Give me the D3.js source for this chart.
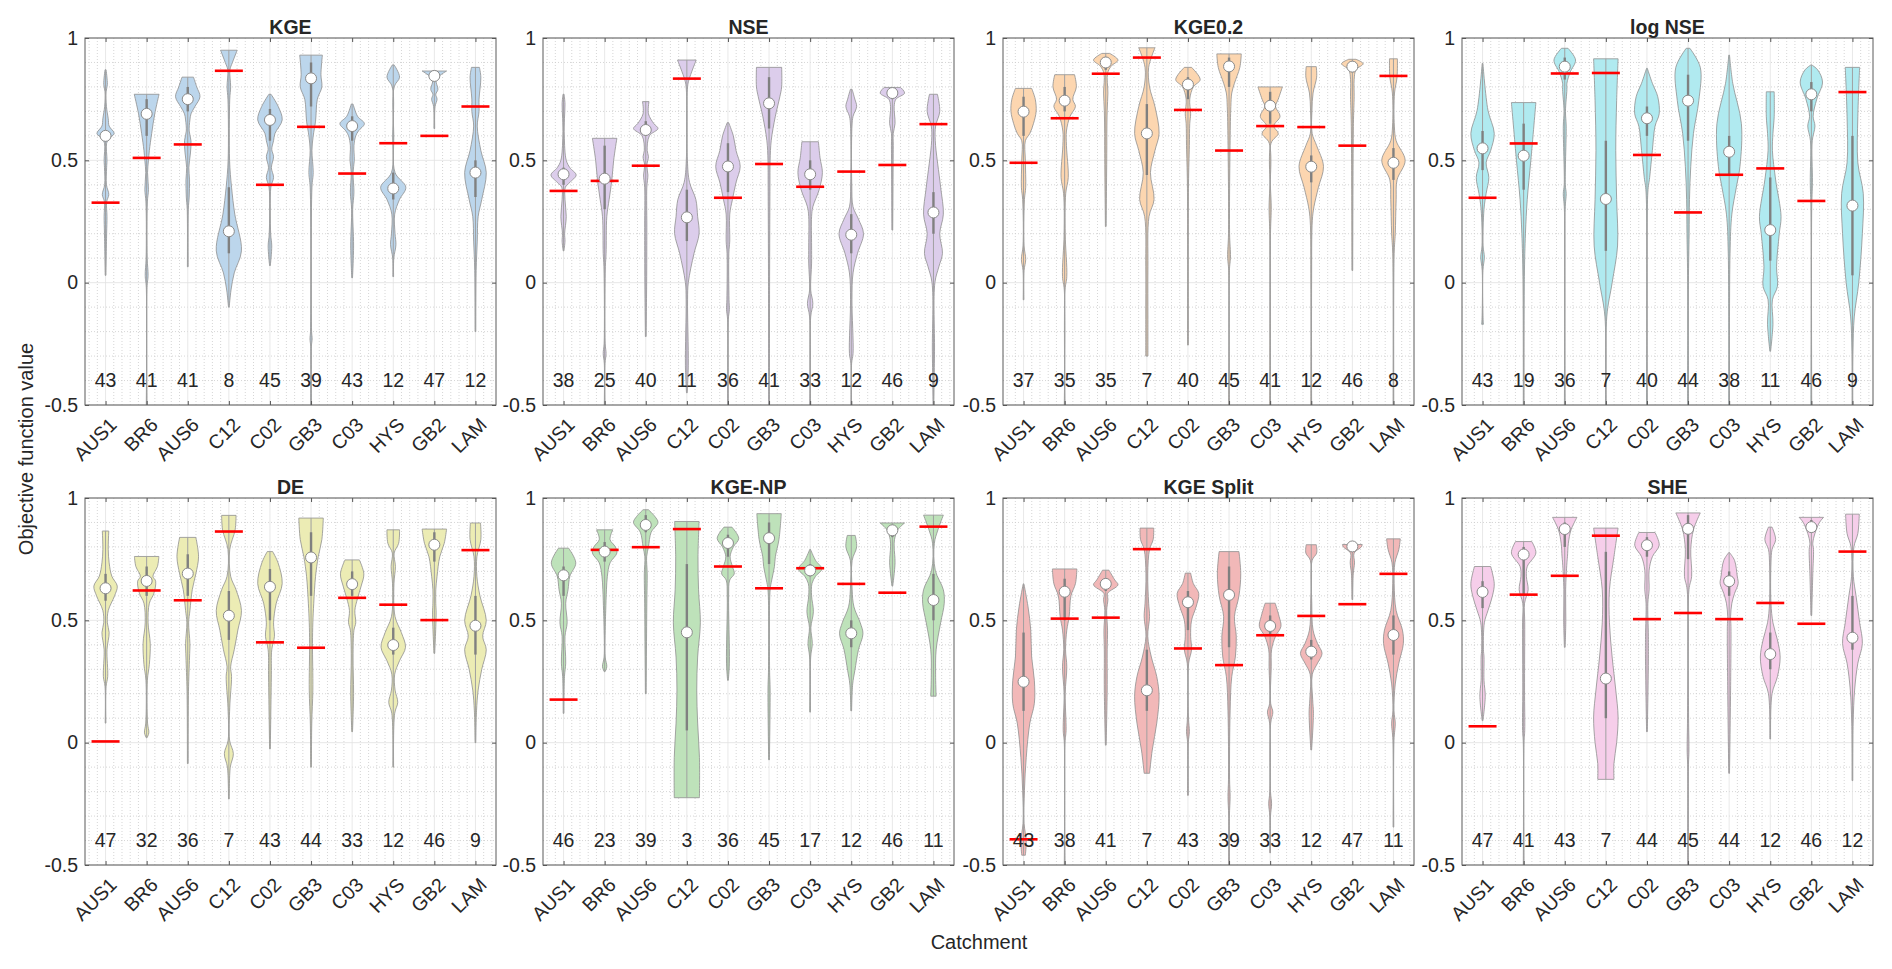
<!DOCTYPE html>
<html>
<head>
<meta charset="utf-8">
<script src="https://cdn.jsdelivr.net/npm/d3@7"></script>
<style>
  body { margin: 0; background: #fff; }
  text { font-family: "Liberation Sans", Arial, Helvetica, sans-serif; fill: #262626; }
</style>
</head>
<body>
<svg id="chart" width="1892" height="969"></svg>
<script>
const catchments = ["AUS1", "BR6", "AUS6", "C12", "C02", "GB3", "C03", "HYS", "GB2", "LAM"];
const metrics = ["KGE", "NSE", "KGE0.2", "log NSE", "DE", "KGE-NP", "KGE Split", "SHE"];
const yTicks = [-0.5, 0, 0.5, 1];
const yTickLabels = ["-0.5", "0", "0.5", "1"];

// violin outlines: [value, relative density] from top to bottom
const kgeShapes = [
  [[0.87,0.03],[0.81,0.1],[0.78,0.03],[0.72,0.05],[0.67,0.15],[0.64,0.2],[0.61,0.48],[0.59,0.2],[0.57,0.06],[0.5,0.08],[0.47,0.06],[0.4,0.05],[0.36,0.18],[0.33,0.06],[0.27,0.08],[0.2,0.06],[0.03,0.02]],
  [[0.77,0.69],[0.69,0.45],[0.61,0.28],[0.54,0.15],[0.5,0.1],[0.45,0.05],[0.38,0.1],[0.33,0.04],[0.1,0.03],[0.03,0.08],[-0.02,0.02],[-0.5,0.02]],
  [[0.84,0.32],[0.8,0.5],[0.76,0.68],[0.72,0.4],[0.69,0.18],[0.665,0.12],[0.62,0.08],[0.58,0.18],[0.53,0.15],[0.47,0.06],[0.42,0.1],[0.35,0.08],[0.3,0.03],[0.065,0.02]],
  [[0.95,0.46],[0.9,0.2],[0.87,0.06],[0.8,0.1],[0.75,0.05],[0.5,0.04],[0.39,0.15],[0.28,0.33],[0.13,0.7],[0.04,0.3],[-0.03,0.12],[-0.1,0.02]],
  [[0.77,0.06],[0.72,0.46],[0.665,0.68],[0.61,0.28],[0.58,0.2],[0.545,0.1],[0.515,0.2],[0.47,0.08],[0.43,0.2],[0.39,0.05],[0.2,0.04],[0.15,0.1],[0.07,0.02]],
  [[0.93,0.63],[0.85,0.55],[0.8,0.6],[0.75,0.35],[0.66,0.25],[0.6,0.12],[0.54,0.05],[0.45,0.12],[0.39,0.05],[-0.2,0.03],[-0.23,0.06],[-0.26,0.02],[-0.5,0.02]],
  [[0.73,0.05],[0.68,0.3],[0.65,0.68],[0.62,0.35],[0.6,0.2],[0.56,0.1],[0.5,0.12],[0.45,0.05],[0.37,0.1],[0.3,0.03],[0.15,0.08],[0.02,0.02]],
  [[0.89,0.05],[0.84,0.35],[0.8,0.05],[0.6,0.03],[0.45,0.1],[0.39,0.7],[0.34,0.35],[0.28,0.08],[0.2,0.1],[0.155,0.15],[0.1,0.03],[0.025,0.02]],
  [[0.865,0.68],[0.83,0.1],[0.79,0.2],[0.77,0.08],[0.75,0.15],[0.72,0.04],[0.63,0.02]],
  [[0.88,0.22],[0.84,0.3],[0.75,0.2],[0.7,0.2],[0.64,0.1],[0.54,0.3],[0.45,0.6],[0.34,0.35],[0.27,0.15],[0.17,0.1],[0.05,0.04],[-0.2,0.02]]
];
const kgeMedian = [0.60, 0.69, 0.75, 0.21, 0.665, 0.835, 0.64, 0.385, 0.845, 0.45];
const kgeQ1 = [0.58, 0.6, 0.70, 0.12, 0.58, 0.72, 0.58, 0.34, 0.83, 0.35];
const kgeQ3 = [0.62, 0.75, 0.80, 0.39, 0.71, 0.9, 0.68, 0.45, 0.86, 0.5];
const kgeBench = [0.327, 0.51, 0.565, 0.866, 0.40, 0.637, 0.446, 0.57, 0.60, 0.72];
const kgeCount = [43, 41, 41, 8, 45, 39, 43, 12, 47, 12];

const nseShapes = [
  [[0.77,0.03],[0.73,0.08],[0.67,0.05],[0.6,0.04],[0.5,0.15],[0.47,0.35],[0.44,0.7],[0.41,0.35],[0.39,0.1],[0.34,0.08],[0.27,0.15],[0.2,0.06],[0.17,0.08],[0.13,0.02]],
  [[0.59,0.68],[0.5,0.5],[0.42,0.4],[0.34,0.25],[0.27,0.12],[0.12,0.08],[0.065,0.04],[-0.25,0.03],[-0.29,0.08],[-0.33,0.02],[-0.5,0.02]],
  [[0.74,0.18],[0.69,0.15],[0.65,0.45],[0.63,0.68],[0.6,0.2],[0.54,0.08],[0.515,0.15],[0.48,0.06],[0.44,0.12],[0.39,0.06],[0.24,0.06],[0.19,0.06],[0,0.05],[-0.22,0.02]],
  [[0.91,0.52],[0.83,0.12],[0.8,0.04],[0.5,0.03],[0.41,0.15],[0.34,0.5],[0.27,0.6],[0.2,0.68],[0.12,0.4],[0,0.08],[-0.07,0.04],[-0.34,0.08],[-0.45,0.02]],
  [[0.654,0.04],[0.6,0.3],[0.54,0.45],[0.475,0.68],[0.41,0.45],[0.34,0.25],[0.28,0.1],[0.17,0.1],[0.12,0.05],[-0.07,0.06],[-0.11,0.08],[-0.15,0.02],[-0.5,0.02]],
  [[0.88,0.7],[0.8,0.7],[0.76,0.6],[0.68,0.35],[0.58,0.12],[0.5,0.06],[0.39,0.05],[0,0.03],[-0.5,0.02]],
  [[0.576,0.46],[0.51,0.55],[0.45,0.68],[0.38,0.5],[0.31,0.15],[0.27,0.08],[0.15,0.08],[0.08,0.08],[-0.03,0.03],[-0.085,0.15],[-0.14,0.03],[-0.5,0.02]],
  [[0.79,0.05],[0.75,0.2],[0.72,0.3],[0.68,0.1],[0.64,0.04],[0.4,0.03],[0.31,0.1],[0.26,0.4],[0.2,0.68],[0.12,0.35],[0.04,0.1],[-0.07,0.04],[-0.29,0.1],[-0.33,0.02],[-0.5,0.02]],
  [[0.798,0.46],[0.775,0.68],[0.75,0.2],[0.72,0.1],[0.65,0.15],[0.61,0.05],[0.56,0.05],[0.215,0.02]],
  [[0.77,0.22],[0.7,0.35],[0.64,0.12],[0.58,0.1],[0.39,0.4],[0.28,0.55],[0.2,0.35],[0.12,0.5],[0.065,0.3],[0,0.08],[-0.28,0.06],[-0.5,0.02]]
];
const nseMedian = [0.443, 0.425, 0.624, 0.267, 0.475, 0.733, 0.443, 0.196, 0.775, 0.287];
const nseQ1 = [0.40, 0.30, 0.60, 0.17, 0.37, 0.63, 0.38, 0.12, 0.75, 0.2];
const nseQ3 = [0.47, 0.56, 0.66, 0.38, 0.57, 0.84, 0.5, 0.28, 0.79, 0.37];
const nseBench = [0.375, 0.416, 0.478, 0.834, 0.347, 0.485, 0.392, 0.454, 0.481, 0.648];
const nseCount = [38, 25, 40, 11, 36, 41, 33, 12, 46, 9];

const kge02Shapes = [
  [[0.794,0.45],[0.75,0.65],[0.7,0.7],[0.65,0.55],[0.61,0.35],[0.58,0.1],[0.5,0.1],[0.39,0.12],[0.34,0.05],[0.15,0.03],[0.095,0.12],[0.05,0.03],[-0.07,0.02]],
  [[0.85,0.55],[0.8,0.65],[0.75,0.45],[0.72,0.6],[0.68,0.3],[0.62,0.1],[0.56,0.1],[0.43,0.2],[0.365,0.06],[0.2,0.03],[0.025,0.12],[-0.03,0.02],[-0.5,0.02]],
  [[0.937,0.22],[0.91,0.68],[0.885,0.3],[0.855,0.1],[0.775,0.12],[0.705,0.08],[0.61,0.06],[0.56,0.06],[0.23,0.02]],
  [[0.96,0.45],[0.88,0.1],[0.8,0.15],[0.72,0.45],[0.61,0.68],[0.54,0.45],[0.45,0.2],[0.34,0.4],[0.27,0.12],[0.065,0.06],[-0.15,0.06],[-0.3,0.06]],
  [[0.88,0.2],[0.83,0.68],[0.8,0.3],[0.75,0.1],[0.69,0.15],[0.65,0.1],[0.56,0.08],[0.4,0.03],[-0.255,0.02]],
  [[0.935,0.68],[0.88,0.6],[0.815,0.3],[0.775,0.15],[0.72,0.1],[0.58,0.06],[0.2,0.03],[0.105,0.08],[0.05,0.02],[-0.5,0.02]],
  [[0.8,0.68],[0.75,0.45],[0.72,0.3],[0.68,0.55],[0.64,0.2],[0.61,0.45],[0.57,0.05],[0.3,0.06],[0.2,0.02],[-0.5,0.02]],
  [[0.883,0.28],[0.84,0.3],[0.775,0.1],[0.705,0.04],[0.61,0.05],[0.56,0.3],[0.475,0.68],[0.39,0.4],[0.31,0.15],[0.255,0.06],[0,0.02],[-0.5,0.02]],
  [[0.913,0.2],[0.895,0.6],[0.87,0.2],[0.83,0.1],[0.76,0.1],[0.65,0.06],[0.05,0.02]],
  [[0.915,0.22],[0.84,0.2],[0.775,0.06],[0.64,0.05],[0.58,0.15],[0.5,0.65],[0.42,0.2],[0.34,0.15],[0.2,0.1],[0.12,0.04],[-0.5,0.02]]
];
const kge02Median = [0.699, 0.744, 0.90, 0.61, 0.81, 0.884, 0.723, 0.474, 0.883, 0.49];
const kge02Q1 = [0.6, 0.7, 0.87, 0.44, 0.75, 0.8, 0.65, 0.41, 0.86, 0.42];
const kge02Q3 = [0.76, 0.8, 0.92, 0.73, 0.84, 0.92, 0.78, 0.52, 0.9, 0.55];
const kge02Bench = [0.49, 0.672, 0.854, 0.92, 0.706, 0.54, 0.64, 0.636, 0.56, 0.845];
const kge02Count = [37, 35, 35, 7, 40, 45, 41, 12, 46, 8];

const logNseShapes = [
  [[0.896,0.02],[0.705,0.3],[0.61,0.65],[0.54,0.45],[0.49,0.2],[0.43,0.35],[0.365,0.2],[0.3,0.08],[0.15,0.03],[0.105,0.1],[0.05,0.02],[-0.15,0.03],[-0.17,0.05]],
  [[0.736,0.68],[0.5,0.4],[0.34,0.2],[0.2,0.1],[0.025,0.04],[-0.5,0.02]],
  [[0.958,0.18],[0.91,0.6],[0.86,0.3],[0.815,0.12],[0.79,0.12],[0.7,0.04],[0.64,0.08],[0.4,0.03],[0.365,0.08],[0.3,0.02],[-0.5,0.02]],
  [[0.915,0.68],[0.745,0.6],[0.54,0.55],[0.34,0.6],[0.15,0.65],[0,0.35],[-0.14,0.05],[-0.5,0.02]],
  [[0.876,0.02],[0.815,0.3],[0.76,0.6],[0.69,0.68],[0.64,0.45],[0.54,0.3],[0.43,0.15],[0.37,0.05],[-0.5,0.02]],
  [[0.958,0.1],[0.88,0.68],[0.745,0.6],[0.61,0.3],[0.475,0.15],[0.34,0.08],[0.2,0.06],[0,0.02],[-0.5,0.02]],
  [[0.93,0.02],[0.815,0.2],[0.65,0.68],[0.475,0.6],[0.39,0.4],[0.28,0.15],[0.12,0.05],[-0.5,0.02]],
  [[0.78,0.22],[0.68,0.22],[0.61,0.15],[0.54,0.12],[0.42,0.3],[0.27,0.6],[0.2,0.5],[0.065,0.35],[-0.015,0.4],[-0.07,0.12],[-0.17,0.15],[-0.28,0.02]],
  [[0.89,0.02],[0.87,0.35],[0.82,0.62],[0.75,0.3],[0.68,0.1],[0.64,0.2],[0.58,0.05],[0.41,0.06],[0.3,0.02],[-0.5,0.02]],
  [[0.88,0.4],[0.68,0.3],[0.49,0.3],[0.365,0.6],[0.2,0.55],[0,0.35],[-0.14,0.1],[-0.28,0.03],[-0.5,0.02]]
];
const logNseMedian = [0.549, 0.519, 0.883, 0.342, 0.672, 0.744, 0.535, 0.215, 0.77, 0.315];
const logNseQ1 = [0.46, 0.38, 0.83, 0.13, 0.6, 0.58, 0.44, 0.09, 0.7, 0.03];
const logNseQ3 = [0.62, 0.65, 0.92, 0.58, 0.72, 0.85, 0.6, 0.43, 0.82, 0.6];
const logNseBench = [0.347, 0.569, 0.855, 0.857, 0.522, 0.287, 0.441, 0.467, 0.334, 0.779];
const logNseCount = [43, 19, 36, 7, 40, 44, 38, 11, 46, 9];

const deShapes = [
  [[0.865,0.18],[0.79,0.15],[0.735,0.2],[0.68,0.35],[0.64,0.65],[0.6,0.5],[0.54,0.15],[0.49,0.1],[0.45,0.2],[0.38,0.08],[0.27,0.12],[0.23,0.03],[0.08,0.02]],
  [[0.761,0.68],[0.72,0.6],[0.68,0.35],[0.66,0.5],[0.61,0.4],[0.57,0.15],[0.49,0.08],[0.405,0.2],[0.32,0.15],[0.255,0.04],[0.08,0.05],[0.04,0.12],[0.02,0.02]],
  [[0.839,0.45],[0.76,0.6],[0.69,0.45],[0.625,0.25],[0.54,0.12],[0.49,0.05],[0.405,0.12],[0.35,0.1],[0.21,0.04],[-0.085,0.02]],
  [[0.929,0.4],[0.87,0.35],[0.79,0.05],[0.68,0.1],[0.625,0.4],[0.54,0.7],[0.46,0.5],[0.38,0.3],[0.31,0.1],[0.27,0.15],[0.145,0.05],[0.01,0.04],[-0.045,0.25],[-0.1,0.08],[-0.23,0.02]],
  [[0.781,0.15],[0.735,0.45],[0.65,0.68],[0.57,0.35],[0.49,0.2],[0.435,0.25],[0.38,0.1],[0.28,0.08],[-0.025,0.02]],
  [[0.918,0.68],[0.83,0.6],[0.76,0.4],[0.68,0.25],[0.57,0.15],[0.49,0.1],[0.405,0.08],[0.215,0.1],[0.08,0.04],[-0.1,0.02]],
  [[0.747,0.4],[0.69,0.65],[0.64,0.5],[0.59,0.3],[0.54,0.15],[0.49,0.2],[0.46,0.1],[0.35,0.05],[0.2,0.08],[0.045,0.02]],
  [[0.87,0.35],[0.815,0.3],[0.775,0.05],[0.72,0.12],[0.65,0.04],[0.515,0.1],[0.45,0.45],[0.39,0.68],[0.335,0.35],[0.28,0.08],[0.215,0.1],[0.165,0.25],[0.12,0.08],[-0.1,0.02]],
  [[0.873,0.68],[0.815,0.55],[0.76,0.3],[0.68,0.15],[0.625,0.08],[0.57,0.08],[0.53,0.1],[0.365,0.02]],
  [[0.898,0.28],[0.83,0.3],[0.76,0.08],[0.68,0.08],[0.6,0.25],[0.5,0.6],[0.435,0.4],[0.38,0.6],[0.3,0.35],[0.215,0.15],[0.13,0.06],[0,0.02]]
];
const deMedian = [0.631, 0.661, 0.691, 0.519, 0.637, 0.757, 0.648, 0.399, 0.809, 0.478];
const deQ1 = [0.58, 0.6, 0.6, 0.42, 0.5, 0.6, 0.6, 0.36, 0.74, 0.36];
const deQ3 = [0.69, 0.72, 0.77, 0.62, 0.71, 0.86, 0.7, 0.47, 0.86, 0.6];
const deBench = [0.005, 0.622, 0.582, 0.863, 0.41, 0.388, 0.592, 0.564, 0.501, 0.787];
const deCount = [47, 32, 36, 7, 43, 44, 33, 12, 46, 9];

const kgeNpShapes = [
  [[0.795,0.28],[0.735,0.68],[0.68,0.35],[0.625,0.25],[0.57,0.12],[0.49,0.2],[0.435,0.08],[0.325,0.12],[0.27,0.05],[0.12,0.02]],
  [[0.87,0.45],[0.83,0.3],[0.8,0.6],[0.775,0.68],[0.735,0.3],[0.68,0.15],[0.625,0.1],[0.54,0.06],[0.49,0.04],[0.35,0.03],[0.31,0.12],[0.29,0.02]],
  [[0.952,0.15],[0.925,0.5],[0.9,0.68],[0.86,0.3],[0.8,0.15],[0.76,0.05],[0.69,0.08],[0.57,0.06],[0.2,0.02]],
  [[0.904,0.68],[0.76,0.62],[0.625,0.65],[0.49,0.75],[0.35,0.6],[0.215,0.55],[0.08,0.6],[-0.06,0.7],[-0.225,0.7]],
  [[0.881,0.22],[0.835,0.6],[0.8,0.3],[0.76,0.12],[0.72,0.25],[0.69,0.35],[0.665,0.1],[0.6,0.04],[0.325,0.08],[0.255,0.02]],
  [[0.936,0.68],[0.83,0.55],[0.76,0.35],[0.72,0.3],[0.665,0.15],[0.625,0.06],[0.3,0.03],[0.215,0.06],[-0.07,0.02]],
  [[0.79,0.02],[0.745,0.3],[0.71,0.65],[0.68,0.3],[0.65,0.1],[0.6,0.08],[0.535,0.18],[0.47,0.04],[0.405,0.12],[0.35,0.03],[0.125,0.02]],
  [[0.847,0.22],[0.8,0.3],[0.745,0.05],[0.625,0.05],[0.555,0.15],[0.49,0.5],[0.445,0.65],[0.38,0.4],[0.295,0.2],[0.24,0.08],[0.13,0.02]],
  [[0.898,0.68],[0.87,0.3],[0.83,0.12],[0.8,0.1],[0.735,0.15],[0.64,0.02]],
  [[0.93,0.55],[0.87,0.25],[0.815,0.05],[0.705,0.1],[0.625,0.55],[0.57,0.6],[0.49,0.4],[0.38,0.15],[0.28,0.12],[0.19,0.15]]
];
const kgeNpMedian = [0.684, 0.781, 0.89, 0.451, 0.816, 0.836, 0.704, 0.447, 0.868, 0.583];
const kgeNpQ1 = [0.6, 0.74, 0.86, 0.05, 0.76, 0.73, 0.68, 0.39, 0.84, 0.5];
const kgeNpQ3 = [0.72, 0.82, 0.93, 0.73, 0.85, 0.9, 0.73, 0.5, 0.89, 0.69];
const kgeNpBench = [0.176, 0.788, 0.799, 0.873, 0.72, 0.631, 0.713, 0.649, 0.613, 0.883];
const kgeNpCount = [46, 23, 39, 3, 36, 45, 17, 12, 46, 11];

const splitShapes = [
  [[0.649,0.02],[0.555,0.25],[0.46,0.4],[0.35,0.45],[0.255,0.6],[0.16,0.6],[0.08,0.35],[-0.06,0.15],[-0.195,0.05],[-0.33,0.03],[-0.4,0.15],[-0.46,0.1]],
  [[0.71,0.68],[0.65,0.6],[0.6,0.35],[0.515,0.25],[0.46,0.12],[0.38,0.05],[0.31,0.12],[0.2,0.03],[0.05,0.08],[0,0.02],[-0.5,0.02]],
  [[0.705,0.18],[0.665,0.5],[0.645,0.68],[0.61,0.1],[0.585,0.12],[0.54,0.05],[0.46,0.1],[0.38,0.08],[0.215,0.08],[-0.01,0.02]],
  [[0.877,0.38],[0.83,0.35],[0.79,0.15],[0.69,0.05],[0.57,0.1],[0.515,0.15],[0.435,0.05],[0.35,0.25],[0.27,0.55],[0.19,0.68],[0.08,0.55],[-0.03,0.3],[-0.125,0.15]],
  [[0.693,0.15],[0.65,0.3],[0.61,0.6],[0.555,0.45],[0.5,0.2],[0.435,0.15],[0.38,0.2],[0.325,0.04],[0.1,0.03],[0.045,0.08],[0,0.02],[-0.215,0.02]],
  [[0.781,0.55],[0.69,0.65],[0.6,0.55],[0.515,0.3],[0.435,0.4],[0.35,0.35],[0.27,0.15],[0.13,0.06],[-0.15,0.03],[-0.22,0.06],[-0.3,0.02],[-0.5,0.02]],
  [[0.57,0.28],[0.515,0.5],[0.475,0.6],[0.435,0.3],[0.38,0.08],[0.31,0.06],[0.16,0.03],[0.125,0.15],[0.08,0.03],[-0.2,0.02],[-0.25,0.08],[-0.3,0.02],[-0.45,0.02]],
  [[0.809,0.28],[0.775,0.3],[0.745,0.05],[0.57,0.03],[0.46,0.1],[0.405,0.35],[0.365,0.6],[0.325,0.35],[0.28,0.06],[0.175,0.08],[0.12,0.12],[-0.03,0.02]],
  [[0.81,0.55],[0.8,0.5],[0.775,0.1],[0.735,0.12],[0.69,0.05],[0.585,0.02]],
  [[0.833,0.38],[0.79,0.3],[0.735,0.08],[0.65,0.04],[0.54,0.15],[0.46,0.5],[0.405,0.55],[0.325,0.3],[0.24,0.1],[0.13,0.03],[0.08,0.1],[0.01,0.03],[-0.345,0.02]]
];
const splitMedian = [0.249, 0.617, 0.649, 0.214, 0.574, 0.604, 0.477, 0.372, 0.802, 0.44];
const splitQ1 = [0.13, 0.5, 0.62, 0.13, 0.46, 0.39, 0.44, 0.34, 0.78, 0.36];
const splitQ3 = [0.45, 0.67, 0.66, 0.38, 0.62, 0.72, 0.52, 0.42, 0.81, 0.52];
const splitBench = [-0.395, 0.507, 0.511, 0.791, 0.385, 0.317, 0.439, 0.518, 0.566, 0.69];
const splitCount = [43, 38, 41, 7, 43, 39, 33, 12, 47, 11];

const sheShapes = [
  [[0.72,0.45],[0.65,0.65],[0.6,0.55],[0.54,0.3],[0.49,0.1],[0.38,0.05],[0.35,0.08],[0.255,0.08],[0.19,0.15],[0.09,0.02]],
  [[0.822,0.45],[0.775,0.68],[0.72,0.2],[0.68,0.15],[0.625,0.25],[0.57,0.05],[0.49,0.06],[0.215,0.05],[0.05,0.06],[0,0.02],[-0.5,0.02]],
  [[0.921,0.68],[0.87,0.35],[0.815,0.2],[0.76,0.15],[0.735,0.12],[0.625,0.05],[0.5,0.06],[0.39,0.02]],
  [[0.877,0.68],[0.76,0.45],[0.625,0.2],[0.49,0.2],[0.35,0.35],[0.215,0.55],[0.105,0.68],[0,0.6],[-0.085,0.45],[-0.15,0.45]],
  [[0.859,0.45],[0.807,0.68],[0.76,0.3],[0.705,0.12],[0.625,0.12],[0.57,0.05],[0.435,0.08],[0.33,0.08],[0.045,0.02]],
  [[0.939,0.68],[0.87,0.3],[0.79,0.15],[0.68,0.2],[0.625,0.05],[0.1,0.03],[-0.03,0.05],[-0.1,0.02],[-0.5,0.02]],
  [[0.777,0.02],[0.745,0.3],[0.68,0.45],[0.65,0.5],[0.61,0.3],[0.57,0.15],[0.515,0.08],[0.475,0.1],[0.215,0.08],[-0.125,0.02]],
  [[0.881,0.1],[0.83,0.3],[0.79,0.1],[0.735,0.04],[0.57,0.04],[0.49,0.15],[0.42,0.4],[0.35,0.55],[0.27,0.4],[0.2,0.1],[0.015,0.02]],
  [[0.921,0.68],[0.9,0.45],[0.855,0.2],[0.815,0.08],[0.79,0.12],[0.69,0.08],[0.52,0.02]],
  [[0.934,0.38],[0.855,0.3],[0.8,0.08],[0.68,0.05],[0.6,0.2],[0.49,0.4],[0.405,0.55],[0.325,0.3],[0.215,0.12],[0.08,0.04],[-0.155,0.02]]
];
const sheMedian = [0.616, 0.769, 0.873, 0.262, 0.807, 0.874, 0.66, 0.362, 0.881, 0.429];
const sheQ1 = [0.55, 0.6, 0.8, 0.1, 0.76, 0.75, 0.6, 0.3, 0.86, 0.38];
const sheQ3 = [0.66, 0.8, 0.9, 0.78, 0.84, 0.93, 0.7, 0.45, 0.91, 0.6];
const sheBench = [0.067, 0.605, 0.682, 0.846, 0.505, 0.53, 0.505, 0.571, 0.486, 0.781];
const sheCount = [47, 41, 43, 7, 44, 45, 44, 12, 46, 12];

const fills = ["#bcd6ec", "#dccdeb", "#fcd6b0", "#b0eaf0", "#ececb4", "#bee2ba", "#f2b8b8", "#f6ceea"];

const panels = [
  { shapes: kgeShapes, median: kgeMedian, q1: kgeQ1, q3: kgeQ3, bench: kgeBench, count: kgeCount },
  { shapes: nseShapes, median: nseMedian, q1: nseQ1, q3: nseQ3, bench: nseBench, count: nseCount },
  { shapes: kge02Shapes, median: kge02Median, q1: kge02Q1, q3: kge02Q3, bench: kge02Bench, count: kge02Count },
  { shapes: logNseShapes, median: logNseMedian, q1: logNseQ1, q3: logNseQ3, bench: logNseBench, count: logNseCount },
  { shapes: deShapes, median: deMedian, q1: deQ1, q3: deQ3, bench: deBench, count: deCount },
  { shapes: kgeNpShapes, median: kgeNpMedian, q1: kgeNpQ1, q3: kgeNpQ3, bench: kgeNpBench, count: kgeNpCount },
  { shapes: splitShapes, median: splitMedian, q1: splitQ1, q3: splitQ3, bench: splitBench, count: splitCount },
  { shapes: sheShapes, median: sheMedian, q1: sheQ1, q3: sheQ3, bench: sheBench, count: sheCount }
];

const svg = d3.select("#chart");
const panelW = 411, panelH = 367;
const colX = [85, 543, 1003, 1462];
const rowY = [38, 498];
const fontSize = "19.5px";

const x = d3.scaleLinear().domain([0.5, 10.5]).range([0, panelW]);
const y = d3.scaleLinear().domain([-0.5, 1]).range([panelH, 0]);
const w = d3.scaleLinear().domain([0, 1]).range([0, 18]);

panels.forEach((p, pi) => {
  const g = svg.append("g")
    .attr("transform", `translate(${colX[pi % 4]},${rowY[Math.floor(pi / 4)]})`);

  // grid
  const minorY = d3.range(-4, 10).map(d => d / 10).filter(d => d % 0.5 !== 0);
  const minorX = d3.range(3, 53).map(d => d / 5).filter(d => d % 1 !== 0);
  g.append("g").selectAll("line").data(minorY).join("line")
    .attr("x1", 0).attr("x2", panelW).attr("y1", d => y(d)).attr("y2", d => y(d))
    .attr("stroke", "#cccccc").attr("stroke-width", 0.8).attr("stroke-dasharray", "1,2");
  g.append("g").selectAll("line").data(minorX).join("line")
    .attr("y1", 0).attr("y2", panelH).attr("x1", d => x(d)).attr("x2", d => x(d))
    .attr("stroke", "#cccccc").attr("stroke-width", 0.8).attr("stroke-dasharray", "1,2");
  g.append("g").selectAll("line").data(yTicks).join("line")
    .attr("x1", 0).attr("x2", panelW).attr("y1", d => y(d)).attr("y2", d => y(d))
    .attr("stroke", "#e2e2e2").attr("stroke-width", 0.8);
  g.append("g").selectAll("line").data(d3.range(1, 11)).join("line")
    .attr("y1", 0).attr("y2", panelH).attr("x1", d => x(d)).attr("x2", d => x(d))
    .attr("stroke", "#e2e2e2").attr("stroke-width", 0.8);

  const clipId = "clip" + pi;
  g.append("clipPath").attr("id", clipId)
    .append("rect").attr("width", panelW).attr("height", panelH);
  const plot = g.append("g").attr("clip-path", `url(#${clipId})`);

  p.shapes.forEach((shape, ci) => {
    const cx = x(ci + 1);
    const area = d3.area()
      .y(d => y(d[0]))
      .x0(d => cx - w(d[1]))
      .x1(d => cx + w(d[1]))
      .curve(d3.curveCatmullRom.alpha(0.5));
    plot.append("path")
      .attr("d", area(shape))
      .attr("fill", fills[pi])
      .attr("stroke", "#8f8f8f")
      .attr("stroke-width", 0.8);

    const ext = d3.extent(shape, d => d[0]);
    plot.append("line")
      .attr("x1", cx).attr("x2", cx)
      .attr("y1", y(ext[0])).attr("y2", y(ext[1]))
      .attr("stroke", "#a0a0a0").attr("stroke-width", 1);
    plot.append("line")
      .attr("x1", cx).attr("x2", cx)
      .attr("y1", y(p.q1[ci])).attr("y2", y(p.q3[ci]))
      .attr("stroke", "#808080").attr("stroke-width", 2.4);
    plot.append("line")
      .attr("x1", cx - 14).attr("x2", cx + 14)
      .attr("y1", y(p.bench[ci])).attr("y2", y(p.bench[ci]))
      .attr("stroke", "#ff0000").attr("stroke-width", 2.6);
    plot.append("circle")
      .attr("cx", cx).attr("cy", y(p.median[ci])).attr("r", 5.5)
      .attr("fill", "#fff").attr("stroke", "#8a8a8a").attr("stroke-width", 1);
  });

  g.append("g").selectAll("text").data(p.count).join("text")
    .attr("x", (d, i) => x(i + 1))
    .attr("y", y(-0.4))
    .attr("dy", "0.35em")
    .attr("text-anchor", "middle")
    .style("font-size", fontSize)
    .text(d => d);

  // axes
  const tickLen = 4;
  const ax = [
    d3.axisLeft(y).tickValues(yTicks).tickFormat((d, i) => yTickLabels[i]).tickSizeInner(-tickLen).tickSizeOuter(0).tickPadding(7),
    d3.axisRight(y).tickValues(yTicks).tickFormat("").tickSizeInner(-tickLen).tickSizeOuter(0),
    d3.axisTop(x).tickValues(d3.range(1, 11)).tickFormat("").tickSizeInner(-tickLen).tickSizeOuter(0),
    d3.axisBottom(x).tickValues(d3.range(1, 11)).tickFormat((d, i) => catchments[i]).tickSizeInner(-tickLen).tickSizeOuter(0)
  ];
  const shifts = [[0, 0], [panelW, 0], [0, 0], [0, panelH]];
  ax.forEach((a, k) => {
    const ag = g.append("g").attr("transform", `translate(${shifts[k][0]},${shifts[k][1]})`).call(a);
    ag.select(".domain").remove();
    ag.selectAll(".tick line").attr("stroke", "#555");
    ag.selectAll(".tick text").style("font-size", fontSize).style("font-family", null).attr("fill", "#262626");
    if (k === 3) {
      ag.selectAll(".tick text")
        .attr("x", 0).attr("y", 0).attr("dy", 0)
        .attr("text-anchor", "end")
        .attr("transform", "translate(12,21) rotate(-45)");
    }
  });

  g.append("rect")
    .attr("width", panelW).attr("height", panelH)
    .attr("fill", "none").attr("stroke", "#5a5a5a").attr("stroke-width", 1);

  g.append("text")
    .attr("x", panelW / 2).attr("y", -4)
    .attr("text-anchor", "middle")
    .style("font-size", fontSize).style("font-weight", "bold")
    .text(metrics[pi]);
});

svg.append("text")
  .attr("x", 979).attr("y", 949)
  .attr("text-anchor", "middle")
  .style("font-size", "20px")
  .text("Catchment");

svg.append("text")
  .attr("transform", "translate(33,449) rotate(-90)")
  .attr("text-anchor", "middle")
  .style("font-size", "20px")
  .text("Objective function value");
</script>
</body>
</html>
